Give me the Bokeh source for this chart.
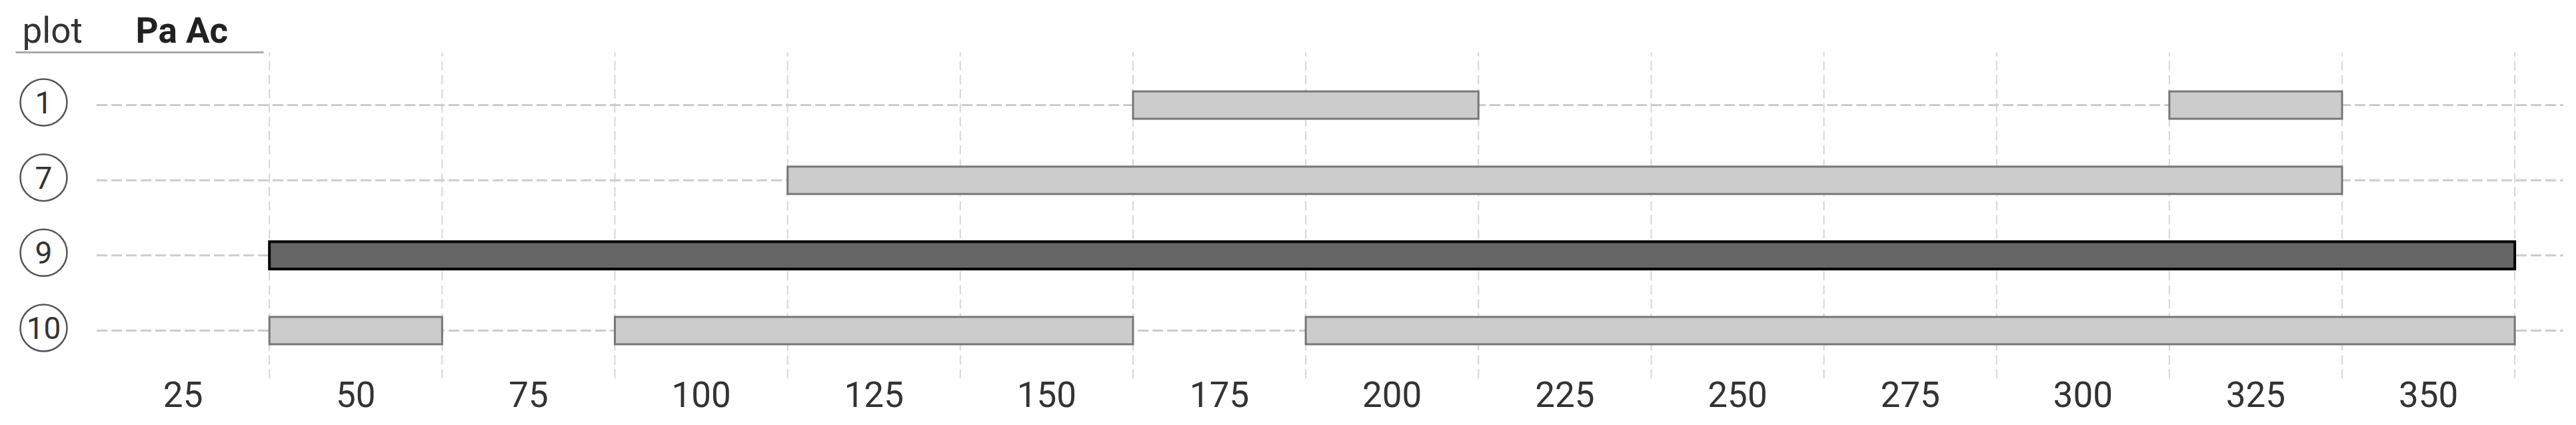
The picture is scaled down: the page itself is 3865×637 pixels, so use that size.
from bokeh.plotting import figure
from bokeh.models import Range1d, FixedTicker
from bokeh.embed import file_html
from bokeh.resources import INLINE
from bokeh.core.properties import value

# ---------------- data ----------------
rows = ["1", "7", "9", "10"]                      # row labels, top to bottom
run_row = ["1", "1", "7", "9", "10", "10", "10"]  # covered runs of 25-wide bins
run_start = [175, 325, 125, 50, 50, 100, 200]     # first bin centre of the run
run_end = [200, 325, 325, 350, 50, 150, 350]      # last bin centre of the run
highlight_row = "9"
tick_values = [25, 50, 75, 100, 125, 150, 175, 200, 225, 250, 275, 300, 325, 350]
bin_width = 25
header_left = "plot"
header_right = "Pa Ac"

# ---------------- layout helpers (page pixels -> data) ----------------
W, H = 3865, 637
FRAME_BOTTOM = 567          # canvas px
A, B = 15.0, 10.366         # page_x = A + B * x
C, D = 495.0, 112.67        # page_y = C - D * y


def dx(page_x):
    return (page_x - A) / B


def dy(page_y):
    return (C - page_y) / D


x_range = Range1d(dx(0), dx(W))
y_range = Range1d(dy(FRAME_BOTTOM), dy(0))

p = figure(width=W, height=H, x_range=x_range, y_range=y_range,
           output_backend="svg", toolbar_location=None, y_axis_location=None,
           min_border_left=0, min_border_right=0, min_border_top=0,
           min_border_bottom=H - FRAME_BOTTOM)
p.outline_line_color = None
p.xgrid.grid_line_color = None
p.ygrid.grid_line_color = None
p.background_fill_color = "white"
p.border_fill_color = "white"

n = len(rows)
row_y = {r: (n - 1 - i) for i, r in enumerate(rows)}

# vertical bin-edge grid lines
edges = [t + bin_width / 2 for t in tick_values]
grid_top = dy(78)
p.segment(x0=edges, x1=edges, y0=[y_range.start] * len(edges), y1=[grid_top] * len(edges),
          line_color="#d6d6d6", line_width=2, line_dash="14 7")

# row guide lines
ys = [row_y[r] for r in rows]
x_left = tick_values[0] - bin_width / 2
x_right = dx(3845)
p.segment(x0=[x_left] * n, x1=[x_right] * n, y0=ys, y1=ys,
          line_color="#cccccc", line_width=3, line_dash="16 6")

# header underline
p.segment(x0=[dx(23)], x1=[dx(395)], y0=[dy(78)], y1=[dy(78)],
          line_color="#aaaaaa", line_width=3)

# bars
lefts = [s - bin_width / 2 for s in run_start]
rights = [e + bin_width / 2 for e in run_end]
bar_y = [row_y[r] for r in run_row]
hi = [r == highlight_row for r in run_row]
bar_h = 41 / D
p.hbar(y=[y for y, h in zip(bar_y, hi) if not h],
       left=[l for l, h in zip(lefts, hi) if not h],
       right=[r for r, h in zip(rights, hi) if not h],
       height=bar_h, fill_color="#cccccc", line_color="#777777", line_width=3,
       line_join="miter")
p.hbar(y=[y for y, h in zip(bar_y, hi) if h],
       left=[l for l, h in zip(lefts, hi) if h],
       right=[r for r, h in zip(rights, hi) if h],
       height=bar_h, fill_color="#666666", line_color="#000000", line_width=4,
       line_join="miter")

# circled row labels
cx = dx(65)
cys = [row_y[r] + 4 / D for r in rows]
p.scatter(x=[cx] * n, y=cys, size=70, marker="circle", fill_color=None,
          line_color="#555555", line_width=2.5)
p.text(x=[cx] * n, y=cys, text=rows, text_align="center", text_baseline="middle",
       text_font=value("Roboto"), text_font_size="46px", text_color="#333333")

# header texts
p.text(x=[dx(33)], y=[dy(45)], text=[header_left], text_align="left",
       text_baseline="alphabetic", text_font=value("Roboto"), text_font_size="53px",
       text_color="#333333")
p.text(x=[dx(203)], y=[dy(45)], text=[header_right], text_align="left",
       text_baseline="alphabetic", text_font=value("Roboto"), text_font_size="53px",
       text_font_style="bold", text_color="#222222")

# x axis
ax = p.xaxis[0]
ax.ticker = FixedTicker(ticks=tick_values)
ax.axis_line_color = None
ax.major_tick_line_color = None
ax.minor_tick_line_color = None
ax.major_tick_out = 0
ax.major_tick_in = 0
ax.major_label_standoff = 4
ax.major_label_text_font = "Roboto"
ax.major_label_text_font_size = "53px"
ax.major_label_text_color = "#333333"

open("out.html", "w").write(file_html(p, INLINE))
